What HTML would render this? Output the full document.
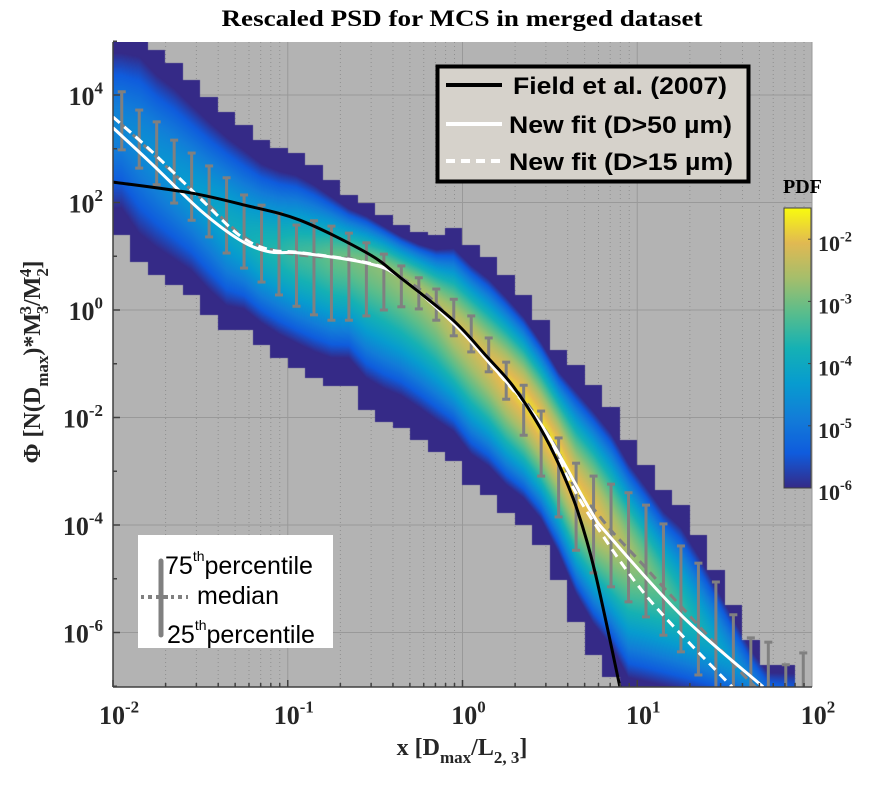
<!DOCTYPE html>
<html><head><meta charset="utf-8">
<style>
html,body{margin:0;padding:0;background:#fff;}
#wrap{position:relative;width:869px;height:785px;overflow:hidden;}
svg,canvas{position:absolute;left:0;top:0;}
</style></head>
<body>
<div id="wrap">
<svg id="under" width="869" height="785"></svg>
<canvas id="heat" width="699" height="645" style="left:113px;top:42px;"></canvas>
<svg id="over" width="869" height="785"></svg>
</div>
<script>
// ---- data ----
const xDecades = [-2, -1, 0, 1, 2];
const yTickDecades = [4, 2, 0, -2, -4, -6];
const cbTickDecades = [-2, -3, -4, -5, -6];
// heatmap columns (log10 x bins of width 0.1 from -2 to 2)
const colTop = [5.2,5.2,4.84,4.60,4.28,3.96,3.68,3.44,3.16,3.01,2.92,2.70,2.42,2.14,1.99,1.77,1.58,1.45,1.40,1.53,1.21,0.99,0.65,0.28,-0.19,-0.74,-1.02,-1.40,-1.80,-2.42,-2.88,-3.35,-3.63,-4.19,-4.84,-5.49,-6.14,-6.60,-6.60,-9];
const colBottom = [1.40,0.89,0.65,0.47,0.28,-0.09,-0.37,-0.37,-0.65,-0.89,-1.08,-1.27,-1.41,-1.41,-1.86,-2.08,-2.20,-2.42,-2.64,-2.81,-3.26,-3.44,-3.78,-4.00,-4.37,-5.02,-5.80,-6.42,-6.83,-7.5,-7.5,-7.5,-7.5,-7.5,-7.5,-7.5,-7.5,-7.5,-7.5,-9];
const colPeak = [-4.7,-4.6,-4.5,-4.4,-4.3,-4.2,-4.0,-3.9,-3.7,-3.6,-3.4,-3.3,-3.1,-3.0,-2.9,-2.8,-2.7,-2.6,-2.5,-2.3,-2.2,-2.1,-1.9,-1.8,-1.75,-1.75,-1.85,-2.0,-2.3,-2.6,-2.9,-3.2,-3.5,-3.8,-4.1,-4.4,-4.7,-5.0,-5.2,-5.4];
// percentile bars at log10 x = -1.95 + 0.1k
const barQ75 = [4.06,3.72,3.50,3.16,2.92,2.68,2.46,2.14,1.95,1.80,1.58,1.66,1.56,1.43,1.25,1.04,0.82,0.60,0.39,0.20,-0.11,-0.52,-0.97,-1.40,-1.88,-2.38,-2.85,-3.09,-3.24,-3.40,-3.63,-3.98,-4.39,-4.71,-5.06,-5.67,-6.10,-6.18,-6.60,-6.38];
const barQ25 = [2.98,2.64,2.33,1.99,1.67,1.36,1.06,0.78,0.52,0.28,0.07,-0.09,-0.19,-0.19,-0.11,0.00,0.06,0.02,-0.19,-0.48,-0.78,-1.15,-1.66,-2.33,-3.09,-3.85,-4.47,-4.89,-5.15,-5.43,-5.71,-6.05,-6.36,-6.79,-7.2,-7.2,-7.2,-7.2,-7.2,-7.2];
const barMedian = [3.45,3.15,2.84,2.53,2.23,1.95,1.63,1.36,1.18,1.09,1.03,1.00,0.98,0.96,0.87,0.78,0.60,0.40,0.12,-0.25,-0.57,-0.95,-1.30,-1.65,-2.12,-2.65,-3.35,-3.70,-4.10,-4.45,-4.80,-5.16,-5.51,-5.87,-6.22,-6.58,-6.93,-7.2,-7.2,-7.2];
// fitted curves (log10 x, log10 y)
const fieldX = [-2,-1.559,-1.245,-0.930,-0.546,-0.358,-0.054,0.140,0.290,0.443,0.558,0.660,0.760,0.901];
const fieldY = [2.38,2.18,1.95,1.67,1.06,0.61,-0.19,-0.87,-1.42,-2.18,-2.92,-3.75,-4.90,-7.01];
const fit50X = [-2,-1.788,-1.502,-1.273,-1.102,-0.930,-0.546,-0.358,-0.054,0.140,0.443,0.730,0.844,1.262,1.720];
const fit50Y = [3.39,2.75,1.86,1.30,1.08,1.06,0.87,0.61,-0.24,-0.93,-2.10,-3.72,-4.22,-5.71,-7.01];
const fit15X = [-2,-1.788,-1.502,-1.273,-1.102,-0.930,-0.546,-0.358,-0.054,0.140,0.443,0.615,0.770,1.073,1.542];
const fit15Y = [3.59,2.98,2.08,1.38,1.12,1.07,0.88,0.61,-0.24,-0.93,-2.12,-3.20,-4.04,-5.40,-7.01];

// ---- axes ----
const PL=113, PR=812, PT=42, PB=687;
function X(l){return PL+(l+2)*174.75;}
function Y(l){return 310-l*53.75;}
const CBT=208, CBB=488, CBL=784, CBR=811;
function CY(v){return CBB-(v+6)*62.2;}

const NS='http://www.w3.org/2000/svg';
function mk(parent,tag,attrs,text){const e=document.createElementNS(NS,tag);for(const k in attrs)e.setAttribute(k,attrs[k]);if(text!==undefined)e.textContent=text;parent.appendChild(e);return e;}
const under=document.getElementById('under'), over=document.getElementById('over');

// background + grid
let bg=mk(under,'rect',{x:PL,y:PT,width:PR-PL,height:PB-PT,fill:'#b3b3b3'});


for(let d=-2;d<2;d++){for(let m=2;m<=9;m++){const x=X(d+Math.log10(m));
 let g=mk(under,'line',{x1:x,x2:x,y1:PT,y2:PB,stroke:'#8f8f8f','stroke-width':1,'stroke-dasharray':'1,3'});
 
 }}
xDecades.forEach(d=>{const x=X(d);let g=mk(under,'line',{x1:x,x2:x,y1:PT,y2:PB,stroke:'#999','stroke-width':1});
 
 });
yTickDecades.forEach(d=>{const y=Y(d);let g=mk(under,'line',{x1:PL,x2:PR,y1:y,y2:y,stroke:'#999','stroke-width':1});
 
 });

// ---- heatmap ----
const stops=[[53,42,135],[15,92,221],[18,125,216],[7,156,207],[21,177,180],[89,189,140],[165,190,107],[225,185,82],[249,251,14]];
function parula(t){t=Math.max(0,Math.min(1,t));const f=t*(stops.length-1);const i=Math.min(stops.length-2,Math.floor(f));const u=f-i;const a=stops[i],b=stops[i+1];return [a[0]+(b[0]-a[0])*u,a[1]+(b[1]-a[1])*u,a[2]+(b[2]-a[2])*u];}
function lerpArr(arr,lx){let f=(lx+1.95)/0.1;let i=Math.floor(f);if(i<0)return arr[0];if(i>=arr.length-1)return arr[arr.length-1];const u=f-i;return arr[i]+(arr[i+1]-arr[i])*u;}
(function(){
 const cv=document.getElementById('heat');const ctx=cv.getContext('2d');
 const W=cv.width,H=cv.height;const img=ctx.createImageData(W,H);
 for(let px=0;px<W;px++){
  const lx=-2+(px+0.5)/174.75;const k=Math.min(39,Math.floor((lx+2)/0.1));
  const top=colTop[k],bot=colBottom[k];if(top<=bot)continue;
  const tS=lerpArr(colTop.map((v,i)=>i<39?v:colTop[38]),lx), bS=lerpArr(colBottom.map((v,i)=>i<39?v:colBottom[38]),lx);
  const c=lerpArr(barMedian,lx),p=lerpArr(colPeak,lx);
  const cc=Math.min(tS-0.3,Math.max(bS+0.3,c));
  for(let py=0;py<H;py++){
   const ly=(310-(py+PT+0.5))/53.75;if(ly>top||ly<bot)continue;
   const d=ly-cc;let h=d>0?(tS-cc):(cc-bS);h=Math.max(h,0.4)*0.8;
   let v=p-(p+6.1)*Math.pow(Math.abs(d/h),1.5);
   const col=parula((v+6)/4.5);const o=(py*W+px)*4;
   img.data[o]=col[0];img.data[o+1]=col[1];img.data[o+2]=col[2];img.data[o+3]=255;
  }
 }
 ctx.putImageData(img,0,0);
})();

// ---- overlay ----
const clip=mk(mk(over,'defs',{}),'clipPath',{id:'pc'});mk(clip,'rect',{x:PL,y:PT,width:PR-PL,height:PB-PT});
const plotG=mk(over,'g',{'clip-path':'url(#pc)'});

function smoothPath(xs,ys){const P=xs.map((x,i)=>[X(x),Y(ys[i])]);let d='M'+P[0][0]+','+P[0][1];
 for(let i=0;i<P.length-1;i++){const p0=P[Math.max(0,i-1)],p1=P[i],p2=P[i+1],p3=P[Math.min(P.length-1,i+2)];
  const c1=[p1[0]+(p2[0]-p0[0])/6,p1[1]+(p2[1]-p0[1])/6],c2=[p2[0]-(p3[0]-p1[0])/6,p2[1]-(p3[1]-p1[1])/6];
  d+=' C'+c1[0].toFixed(1)+','+c1[1].toFixed(1)+' '+c2[0].toFixed(1)+','+c2[1].toFixed(1)+' '+p2[0].toFixed(1)+','+p2[1].toFixed(1);}
 return d;}

// error bars
barQ75.forEach((q,i)=>{const lx=-1.95+0.1*i;const x=X(lx);const y1=Y(q),y2=Y(barQ25[i]);
 const g=mk(plotG,'g',{stroke:'#808080','stroke-width':3});
 
 
 mk(g,'line',{x1:x,x2:x,y1:y1,y2:y2});mk(g,'line',{x1:x-4,x2:x+4,y1:y1,y2:y1});mk(g,'line',{x1:x-4,x2:x+4,y1:y2,y2:y2});});
let med=mk(plotG,'path',{d:smoothPath(barMedian.map((v,i)=>-1.95+0.1*i),barMedian),fill:'none',stroke:'#808080','stroke-width':3,'stroke-dasharray':'9,6'});



let f15=mk(plotG,'path',{d:smoothPath(fit15X,fit15Y),fill:'none',stroke:'#fff','stroke-width':3,'stroke-dasharray':'9,6'});


let f50=mk(plotG,'path',{d:smoothPath(fit50X,fit50Y),fill:'none',stroke:'#fff','stroke-width':3});


let fld=mk(plotG,'path',{d:smoothPath(fieldX,fieldY),fill:'none',stroke:'#000','stroke-width':3});



// axes lines and ticks
let ax=mk(over,'g',{stroke:'#404040','stroke-width':1.5});


mk(ax,'line',{x1:PL,x2:PR,y1:PB,y2:PB});mk(ax,'line',{x1:PL,x2:PL,y1:PT,y2:PB});
for(let d=-2;d<2;d++){for(let m=1;m<=9;m++){const x=X(d+Math.log10(m));mk(ax,'line',{x1:x,x2:x,y1:PB,y2:PB-(m==1?7:4)});}}
for(let d=-7;d<=5;d++){const y=Y(d);mk(ax,'line',{x1:PL,x2:PL+(d%2==0?7:4),y1:y,y2:y});}

const serif='"Liberation Serif", serif';
function pow10(parent,x,y,exp,size,anchor,name){const t=mk(parent,'text',{x:x,y:y,'font-family':serif,'font-weight':'bold','font-size':size,'text-anchor':anchor,fill:'#262626'});
 
 
 mk(t,'tspan',{},'10');mk(t,'tspan',{dy:-size*0.45,'font-size':size*0.65},String(exp));return t;}
xDecades.forEach(d=>pow10(over,X(d)+6,724,d,26,'middle','x-tick-label'));
yTickDecades.forEach(d=>pow10(over,103,Y(d)+10,d,26,'end','y-tick-label'));

// title
let title=mk(over,'text',{x:462,y:26,'font-family':serif,'font-weight':'bold','font-size':23,'text-anchor':'middle',fill:'#000',textLength:481,lengthAdjust:'spacingAndGlyphs'},'Rescaled PSD for MCS in merged dataset');


// x label
let xl=mk(over,'text',{x:462,y:755,'font-family':serif,'font-weight':'bold','font-size':24,'text-anchor':'middle',fill:'#262626'});


mk(xl,'tspan',{},'x [D');mk(xl,'tspan',{dy:8,'font-size':17},'max');mk(xl,'tspan',{dy:-8},'/L');mk(xl,'tspan',{dy:8,'font-size':17},'2, 3');mk(xl,'tspan',{dy:-8},']');
// y label
let yl=mk(over,'text',{x:0,y:0,'font-family':serif,'font-weight':'bold','font-size':24,'text-anchor':'middle',fill:'#262626',transform:'translate(40,362) rotate(-90)'});


mk(yl,'tspan',{},'Φ [N(D');mk(yl,'tspan',{dy:8,'font-size':17},'max');mk(yl,'tspan',{dy:-8},')*M');mk(yl,'tspan',{dy:8,'font-size':17,dx:-1},'3');mk(yl,'tspan',{dy:-17,dx:-9,'font-size':17},'3');mk(yl,'tspan',{dy:9},'/M');mk(yl,'tspan',{dy:8,'font-size':17},'2');mk(yl,'tspan',{dy:-17,dx:-9,'font-size':17},'4');mk(yl,'tspan',{dy:9},']');

// legend box
const sans='"Liberation Sans", sans-serif';
let lg=mk(over,'g',{});


mk(lg,'rect',{x:437.5,y:66.5,width:311,height:115,fill:'#d6d2cb',stroke:'#000','stroke-width':4});
const legItems=[['Field et al. (2007)','#000',null,85,'legend-entry-field',513,214],['New fit (D>50 µm)','#fff',null,124,'legend-entry-fit50',509,223],['New fit (D>15 µm)','#fff','9,6',161,'legend-entry-fit15',509,224]];
legItems.forEach(it=>{const g=mk(lg,'g',{});
 
 
 const a={x1:446,x2:502,y1:it[3],y2:it[3],stroke:it[1],'stroke-width':4};if(it[2])a['stroke-dasharray']=it[2];mk(g,'line',a);
 mk(g,'text',{x:it[5],y:it[3]+9,'font-family':sans,'font-weight':'bold','font-size':24,fill:'#000',textLength:it[6],lengthAdjust:'spacingAndGlyphs'},it[0]);});

// percentile legend
let pg=mk(over,'g',{});


mk(pg,'rect',{x:138,y:535,width:195,height:113,fill:'#fff'});
mk(pg,'line',{x1:161,x2:161,y1:561,y2:635,stroke:'#808080','stroke-width':5,'stroke-linecap':'round'});
mk(pg,'line',{x1:141,x2:188,y1:597,y2:597,stroke:'#808080','stroke-width':4,'stroke-dasharray':'3,4,4,4,12,3'});
let t1=mk(pg,'text',{x:165,y:574,'font-family':sans,'font-size':25,fill:'#000'});mk(t1,'tspan',{},'75');mk(t1,'tspan',{dy:-13,'font-size':14},'th');mk(t1,'tspan',{dy:13},'percentile');
mk(pg,'text',{x:197,y:604,'font-family':sans,'font-size':25,fill:'#000'},'median');
let t2=mk(pg,'text',{x:167,y:643,'font-family':sans,'font-size':25,fill:'#000'});mk(t2,'tspan',{},'25');mk(t2,'tspan',{dy:-13,'font-size':14},'th');mk(t2,'tspan',{dy:13},'percentile');

// colorbar
let cb=mk(over,'g',{});


const lgd=mk(mk(over,'defs',{}),'linearGradient',{id:'cbg',x1:0,y1:1,x2:0,y2:0});
stops.forEach((s,i)=>mk(lgd,'stop',{offset:i/(stops.length-1),'stop-color':'rgb('+s.join(',')+')'}));
mk(cb,'rect',{x:CBL,y:CBT,width:CBR-CBL,height:CBB-CBT,fill:'url(#cbg)',stroke:'#404040','stroke-width':1});
cbTickDecades.forEach(d=>{const y=CY(d);mk(cb,'line',{x1:CBR-3,x2:CBR,y1:y,y2:y,stroke:'#404040'});
 pow10(cb,818,y+12,d,22,'start','colorbar-tick-label');});
let pdf=mk(cb,'text',{x:783,y:193,'font-family':serif,'font-weight':'bold','font-size':20,fill:'#000'},'PDF');


</script>
</body></html>
